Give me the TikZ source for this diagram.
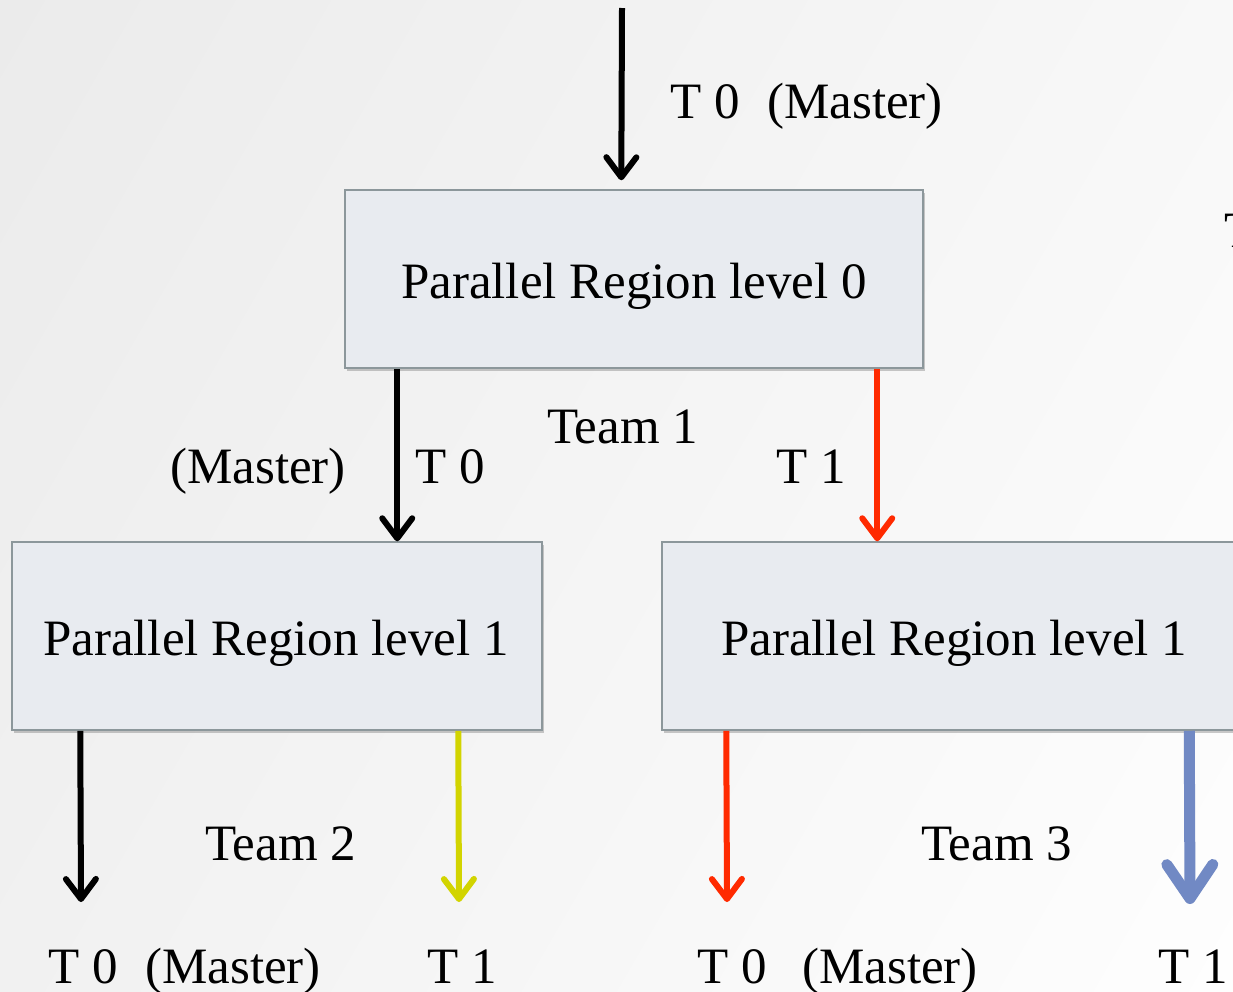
\documentclass[tikz,border=0pt]{standalone}
\usepackage{fontspec}
\setmainfont{Liberation Serif}
\usetikzlibrary{arrows.meta,shadows,calc}
\definecolor{boxfill}{HTML}{E8EBF0}
\definecolor{boxline}{HTML}{8C979B}
\definecolor{tred}{HTML}{FF2A00}
\definecolor{tyellow}{HTML}{D2D400}
\definecolor{tblue}{HTML}{7189C4}
\definecolor{bgA}{HTML}{EAEAEA}
\newcommand{\bigfont}{\fontsize{51}{60}\selectfont}
\tikzset{
  region/.style={draw=boxline, line width=1.5pt, fill=boxfill, inner sep=0pt,
    drop shadow={shadow xshift=2pt, shadow yshift=-3pt, opacity=0.35, fill=black!60}},
  lbl/.style={anchor=base west, inner sep=0pt, font=\bigfont},
  thin arrow/.style={line width=6pt, -{Straight Barb[round, length=20pt, width=30pt, line width=6pt]}},
  fat arrow/.style={line width=11pt, -{Straight Barb[round, length=34pt, width=46pt, line width=11pt]}}
}
\begin{document}
\begin{tikzpicture}[x=1pt, y=-1pt]
\useasboundingbox (0,0) rectangle (1233,991);
\clip (0,0) rectangle (1233,991);
\shade[left color=bgA, right color=white, shading angle=60] (-300,-300) rectangle (1533,1291);

% boxes
\node[region, minimum width=578pt, minimum height=178pt] (box0) at (634,279) {};
\node[inner sep=0pt, font=\bigfont] (box0text) at (634,286) {Parallel Region level 0};
\node[region, minimum width=530pt, minimum height=188pt] (box1L) at (277,636) {};
\node[inner sep=0pt, font=\bigfont] (box1Ltext) at (276,643) {Parallel Region level 1};
\node[region, minimum width=600pt, minimum height=188pt] (box1R) at (962,636) {};
\node[inner sep=0pt, font=\bigfont] (box1Rtext) at (954,643) {Parallel Region level 1};

% coordinates for free ends
\coordinate (top) at (622,8);
\coordinate (e1) at (81,902);
\coordinate (e2) at (459,902);
\coordinate (e3) at (727,902);
\coordinate (e4) at (1190,904);

% arrows
\draw[thin arrow, black, shorten >=9pt] (top) -- ([xshift=277pt]box0.north west);
\draw[thin arrow, black] ([xshift=53pt]box0.south west) -- ([xshift=386pt]box1L.north west);
\draw[thin arrow, tred] ([xshift=533pt]box0.south west) -- ([xshift=216pt]box1R.north west);
\draw[thin arrow, black] ([xshift=69pt]box1L.south west) -- (e1);
\draw[thin arrow, tyellow] ([xshift=447pt]box1L.south west) -- (e2);
\draw[thin arrow, tred] ([xshift=65pt]box1R.south west) -- (e3);
\draw[fat arrow, tblue] ([xshift=528pt]box1R.south west) -- (e4);

% labels
\node[lbl] (l1) at (670,118) {T 0};
\node[lbl] (l2) at (767,118) {(Master)};
\node[lbl] (l3) at (170,483) {(Master)};
\node[lbl] (l4) at (415,483) {T 0};
\node[lbl] (l5) at (547,443) {Team 1};
\node[lbl] (l6) at (776,483) {T 1};
\node[lbl] (l7) at (205,860) {Team 2};
\node[lbl] (l8) at (921,860) {Team 3};
\node[lbl] (l9) at (48,983) {T 0};
\node[lbl] (l10) at (145,983) {(Master)};
\node[lbl] (l11) at (427,983) {T 1};
\node[lbl] (l12) at (697,983) {T 0};
\node[lbl] (l13) at (802,983) {(Master)};
\node[lbl] (l14) at (1158,983) {T 1};
\node[lbl] (l15) at (1224,247) {T};
\end{tikzpicture}
\end{document}
